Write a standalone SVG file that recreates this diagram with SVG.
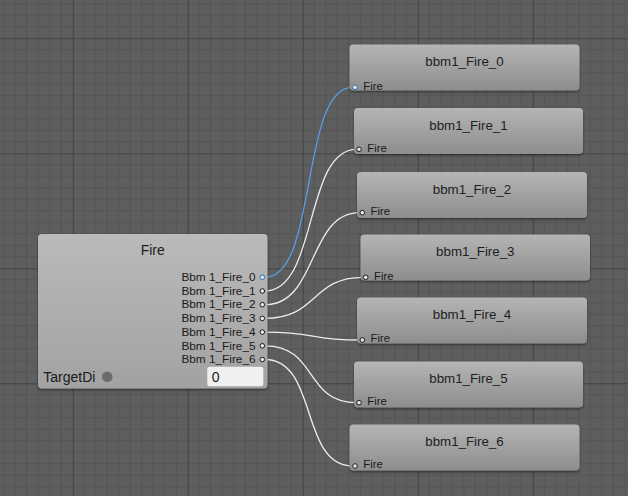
<svg xmlns="http://www.w3.org/2000/svg" width="628" height="496" viewBox="0 0 628 496">
<style>
.title{font-family:"Liberation Sans",Arial,sans-serif;font-size:13.3px;fill:#1e1e1e;text-anchor:middle}
.ftitle{font-family:"Liberation Sans",Arial,sans-serif;font-size:14px;fill:#1e1e1e;text-anchor:middle}
.plabel{font-family:"Liberation Sans",Arial,sans-serif;font-size:11.3px;fill:#1a1a1a}
.olabel{font-family:"Liberation Sans",Arial,sans-serif;font-size:11.8px;fill:#1a1a1a;text-anchor:end}
.field{font-family:"Liberation Sans",Arial,sans-serif;font-size:14px;fill:#1a1a1a}
.node{fill:url(#ng);filter:url(#sh)}
.bnode{fill:url(#bg);filter:url(#sh)}
.port{fill:#e6e6e6;stroke:#1c1c1c;stroke-width:1}
.portb{fill:#e6e6e6;stroke:#2f6fb8;stroke-width:1}
.edge{fill:none;stroke:#ececec;stroke-width:1.3}
.edgeb{fill:none;stroke:#5a9de6;stroke-width:1.3}
</style>
<defs>
<pattern id="grid" x="72.7" y="38.3" width="115" height="115" patternUnits="userSpaceOnUse">
<rect width="115" height="115" fill="#5e5e5e"/>
<path d="M11.5 0V115M23 0V115M34.5 0V115M46 0V115M57.5 0V115M69 0V115M80.5 0V115M92 0V115M103.5 0V115M0 11.5H115M0 23H115M0 34.5H115M0 46H115M0 57.5H115M0 69H115M0 80.5H115M0 92H115M0 103.5H115" stroke="#545454" stroke-width="1" fill="none"/>
<path d="M0.5 0V115M0 0.5H115" stroke="#434343" stroke-width="1.2" fill="none"/>
</pattern>
<linearGradient id="ng" x1="0" y1="0" x2="0" y2="1">
<stop offset="0" stop-color="#b5b5b5"/>
<stop offset="1" stop-color="#8d8d8d"/>
</linearGradient>
<linearGradient id="bg" x1="0" y1="0" x2="0" y2="1">
<stop offset="0" stop-color="#bababa"/>
<stop offset="1" stop-color="#a2a2a2"/>
</linearGradient>
<filter id="sh" x="-5%" y="-10%" width="110%" height="125%">
<feDropShadow dx="0" dy="1.5" stdDeviation="1.2" flood-color="#000" flood-opacity="0.45"/>
</filter>
</defs>
<rect width="628" height="496" fill="url(#grid)"/>

<g id="connectors">
<path class="edgeb" d="M265 277.3 C318 277.3 300 87.3 352.5 87.3"/>
<path class="edge" d="M265 291 C318 291 304 149.3 356.5 149.3"/>
<path class="edge" d="M265 304.7 C318 304.7 307.5 212.7 359.8 212.7"/>
<path class="edge" d="M265 318.4 C318 318.4 311 277.3 363.2 277.3"/>
<path class="edge" d="M265 332.1 C318 332.1 307.5 340 359.8 340"/>
<path class="edge" d="M265 345.8 C318 345.8 304 402.7 356.5 402.7"/>
<path class="edge" d="M265 359.5 C318 359.5 300 466 352.5 466"/>
</g>

<g id="node-fire">
<rect class="bnode" x="38" y="234" width="229.5" height="154.5" rx="4"/>
<text class="ftitle" x="152.7" y="255">Fire</text>
<text class="olabel" x="255.5" y="281">Bbm 1_Fire_0</text>
<text class="olabel" x="255.5" y="294.7">Bbm 1_Fire_1</text>
<text class="olabel" x="255.5" y="308.4">Bbm 1_Fire_2</text>
<text class="olabel" x="255.5" y="322.1">Bbm 1_Fire_3</text>
<text class="olabel" x="255.5" y="335.8">Bbm 1_Fire_4</text>
<text class="olabel" x="255.5" y="349.5">Bbm 1_Fire_5</text>
<text class="olabel" x="255.5" y="363.2">Bbm 1_Fire_6</text>
<circle class="portb" cx="262.3" cy="277.3" r="2.3"/>
<circle class="port" cx="262.3" cy="291" r="2.3"/>
<circle class="port" cx="262.3" cy="304.7" r="2.3"/>
<circle class="port" cx="262.3" cy="318.4" r="2.3"/>
<circle class="port" cx="262.3" cy="332.1" r="2.3"/>
<circle class="port" cx="262.3" cy="345.8" r="2.3"/>
<circle class="port" cx="262.3" cy="359.5" r="2.3"/>
<text class="field" x="43.3" y="382">TargetDi</text>
<line x1="113" y1="376.7" x2="206" y2="376.7" stroke="#9e9e9e" stroke-width="1"/>
<circle cx="107.3" cy="376.7" r="5.3" fill="#6b6b6b"/>
<rect x="207.3" y="366.7" width="56" height="19.5" rx="2.5" fill="#f0f0f0"/>
<text class="field" x="211.7" y="382">0</text>
</g>

<g id="node-bbm1-fire-0">
<rect class="node" x="349.5" y="44.5" width="230" height="46" rx="4"/>
<text class="title" x="464.5" y="66">bbm1_Fire_0</text>
<circle class="portb" cx="355" cy="87.3" r="2.3"/>
<text class="plabel" x="363.3" y="89.5">Fire</text>
</g>
<g id="node-bbm1-fire-1">
<rect class="node" x="354" y="108" width="229" height="46" rx="4"/>
<text class="title" x="468.5" y="129.5">bbm1_Fire_1</text>
<circle class="port" cx="359" cy="149.3" r="2.3"/>
<text class="plabel" x="367.3" y="151.5">Fire</text>
</g>
<g id="node-bbm1-fire-2">
<rect class="node" x="357" y="172" width="230" height="46" rx="4"/>
<text class="title" x="472" y="193.5">bbm1_Fire_2</text>
<circle class="port" cx="362.3" cy="212.7" r="2.3"/>
<text class="plabel" x="370.6" y="215">Fire</text>
</g>
<g id="node-bbm1-fire-3">
<rect class="node" x="360.5" y="234.5" width="229.5" height="46" rx="4"/>
<text class="title" x="475.3" y="256">bbm1_Fire_3</text>
<circle class="port" cx="365.7" cy="277.3" r="2.3"/>
<text class="plabel" x="374" y="279.5">Fire</text>
</g>
<g id="node-bbm1-fire-4">
<rect class="node" x="357" y="297.5" width="230" height="46" rx="4"/>
<text class="title" x="472" y="319">bbm1_Fire_4</text>
<circle class="port" cx="362.3" cy="340" r="2.3"/>
<text class="plabel" x="370.6" y="342.3">Fire</text>
</g>
<g id="node-bbm1-fire-5">
<rect class="node" x="354" y="361.5" width="229" height="46" rx="4"/>
<text class="title" x="468.5" y="383">bbm1_Fire_5</text>
<circle class="port" cx="359" cy="402.7" r="2.3"/>
<text class="plabel" x="367.3" y="405">Fire</text>
</g>
<g id="node-bbm1-fire-6">
<rect class="node" x="349.5" y="424.5" width="230" height="46" rx="4"/>
<text class="title" x="464.5" y="446">bbm1_Fire_6</text>
<circle class="port" cx="355" cy="466" r="2.3"/>
<text class="plabel" x="363.3" y="468.3">Fire</text>
</g>
</svg>
